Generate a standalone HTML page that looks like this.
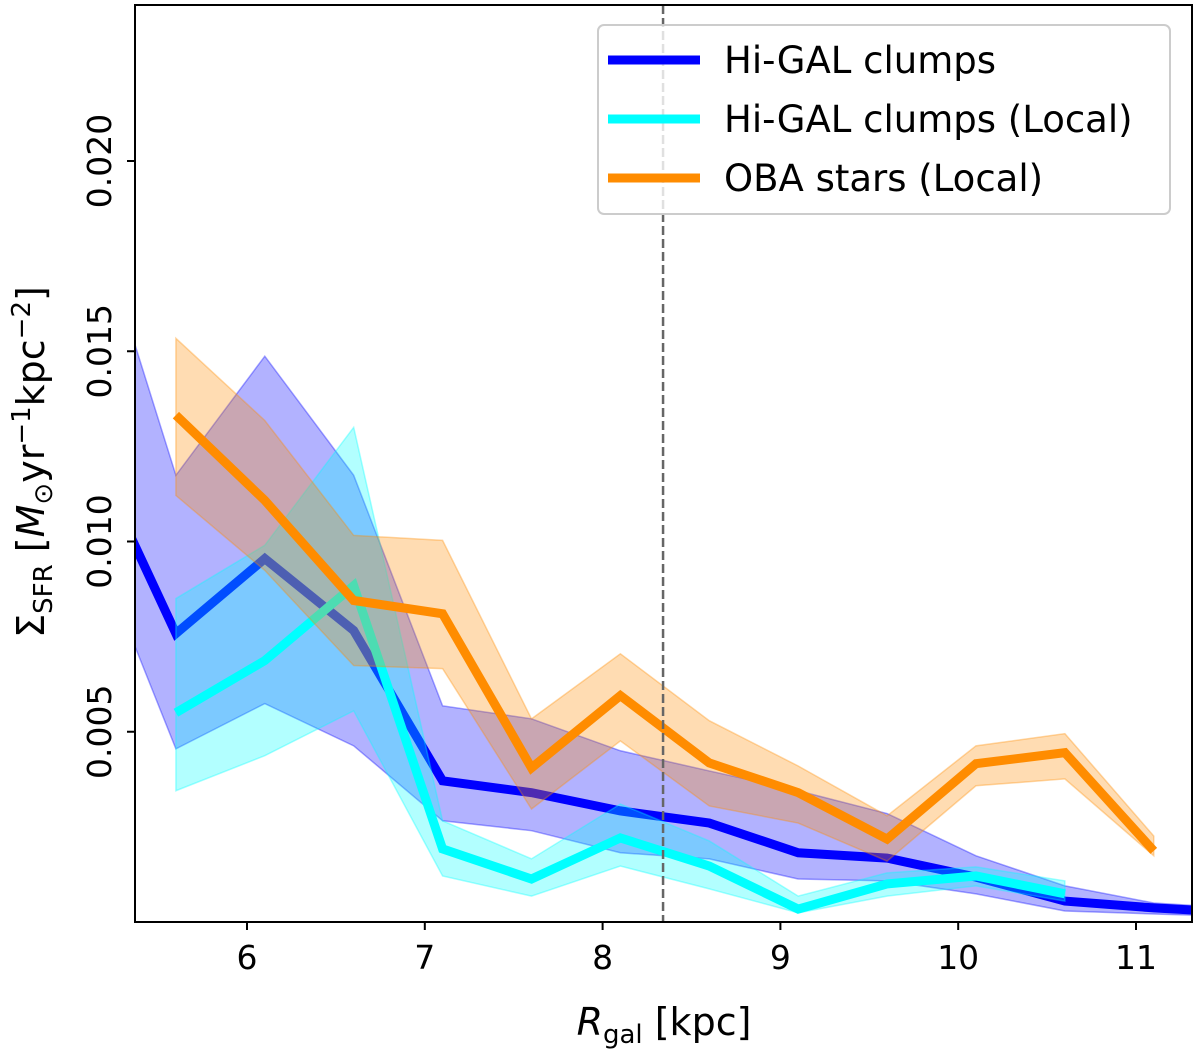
<!DOCTYPE html>
<html><head><meta charset="utf-8"><style>
body{margin:0;background:#fff}
svg{display:block;font-family:"DejaVu Sans","Liberation Sans",sans-serif}
</style></head><body>
<svg id="chart" width="1200" height="1054" viewBox="0 0 1200 1054" xmlns="http://www.w3.org/2000/svg">
<defs><clipPath id="clip"><rect x="135" y="5" width="1057" height="917"/></clipPath></defs>
<g id="plot" clip-path="url(#clip)"></g>
<g id="axes"></g>
</svg>
<script>
const xTicks=[6,7,8,9,10,11];
const yTicks=[0.005,0.010,0.015,0.020];
const yTickLabels=["0.005","0.010","0.015","0.020"];
const blueX=[5.1,5.6,6.1,6.6,7.1,7.6,8.1,8.6,9.1,9.6,10.1,10.6,11.1,11.6];
const blueMid=[0.0126,0.00758,0.00955,0.00766,0.00371,0.0034,0.00292,0.0026,0.00182,0.00168,0.00118,0.00055,0.00037,0.00024];
const blueHi=[0.0192,0.01174,0.01487,0.01174,0.00568,0.00534,0.0045,0.00397,0.00345,0.00285,0.00174,0.00095,0.0005,0.00035];
const blueLo=[0.0104,0.00455,0.00574,0.00463,0.00266,0.0024,0.00182,0.00166,0.00113,0.00108,0.00074,0.00029,0.00021,0.00014];
const cyanX=[5.6,6.1,6.6,7.1,7.6,8.1,8.6,9.1,9.6,10.1,10.6];
const cyanMid=[0.0055,0.00687,0.00884,0.00192,0.00113,0.00221,0.00147,0.00034,0.001,0.00121,0.00074];
const cyanHi=[0.0085,0.0099,0.013,0.00266,0.00166,0.0031,0.00213,0.00068,0.00129,0.00145,0.00108];
const cyanLo=[0.00345,0.00437,0.00555,0.00121,0.00068,0.00147,0.00087,0.00024,0.00068,0.00095,0.00055];
const orangeX=[5.6,6.1,6.6,7.1,7.6,8.1,8.6,9.1,9.6,10.1,10.6,11.1];
const orangeMid=[0.01332,0.01108,0.00845,0.0081,0.00405,0.00595,0.00418,0.0034,0.00218,0.00416,0.00445,0.00187];
const orangeHi=[0.01534,0.01318,0.01016,0.01003,0.00534,0.00705,0.00529,0.0041,0.00279,0.00463,0.00495,0.00226];
const orangeLo=[0.01121,0.00924,0.00674,0.00666,0.00297,0.00476,0.00305,0.0026,0.0016,0.00358,0.00376,0.00174];
const solarR=8.34;

const X0=135,X1=1192,Y0=5,Y1=922;
const xMin=5.37,xMax=11.315,yMin=0,yMax=0.0241;
const sx=v=>X0+(v-xMin)/(xMax-xMin)*(X1-X0);
const sy=v=>922-(v-yMin)/(yMax-yMin)*(Y1-Y0);
const NS="http://www.w3.org/2000/svg";
const plot=document.getElementById('plot'),axes=document.getElementById('axes');
function mk(tag,attrs,parent){const e=document.createElementNS(NS,tag);for(const k in attrs)e.setAttribute(k,attrs[k]);parent.appendChild(e);return e;}

function series(xs,mid,hi,lo,color,name){
  const top=xs.map((x,i)=>sx(x)+','+sy(hi[i]));
  const bot=xs.map((x,i)=>sx(x)+','+sy(lo[i])).reverse();
  const band=mk('polygon',{points:top.concat(bot).join(' '),fill:color,'fill-opacity':0.3,stroke:color,'stroke-opacity':0.35,'stroke-width':1.5},plot);
  
  
  const line=mk('polyline',{points:xs.map((x,i)=>sx(x)+','+sy(mid[i])).join(' '),fill:'none',stroke:color,'stroke-width':9,'stroke-linejoin':'miter','stroke-linecap':'butt'},plot);
  
  
}
series(blueX,blueMid,blueHi,blueLo,'#0000ff','hi-gal-clumps');
series(cyanX,cyanMid,cyanHi,cyanLo,'#00ffff','hi-gal-clumps-local');
series(orangeX,orangeMid,orangeHi,orangeLo,'#ff8c00','oba-stars-local');

const vl=mk('line',{x1:sx(solarR),x2:sx(solarR),y1:Y0,y2:Y1,stroke:'#666','stroke-width':2.5,'stroke-dasharray':'9,4'},plot);



const frame=mk('rect',{x:X0,y:Y0,width:X1-X0,height:Y1-Y0,fill:'none',stroke:'#000','stroke-width':2},axes);



xTicks.forEach(t=>{
  const x=sx(t);
  const tk=mk('line',{x1:x,x2:x,y1:Y1,y2:Y1+8,stroke:'#000','stroke-width':2},axes);
  
  
  const lb=mk('text',{x:x,y:Y1+47,'text-anchor':'middle','font-size':33},axes);
  lb.textContent=t;
  
  
});
yTicks.forEach((t,i)=>{
  const y=sy(t);
  const tk=mk('line',{x1:X0-8,x2:X0,y1:y,y2:y,stroke:'#000','stroke-width':2},axes);
  
  
  const lb=mk('text',{x:0,y:0,'text-anchor':'middle','font-size':33,transform:`translate(111,${y}) rotate(-90)`},axes);
  lb.textContent=yTickLabels[i];
  
  
});
</script>
<svg style="position:absolute;left:0;top:0" width="1200" height="1054" xmlns="http://www.w3.org/2000/svg" font-family="DejaVu Sans, Liberation Sans, sans-serif">
<text x="664" y="1035" text-anchor="middle" font-size="38"><tspan font-style="italic">R</tspan><tspan font-size="26" dy="8">gal</tspan><tspan dy="-8"> [kpc]</tspan></text>
<text transform="translate(44,462) rotate(-90)" text-anchor="middle" font-size="38">Σ<tspan font-size="26" dy="8">SFR</tspan><tspan dy="-8"> [</tspan><tspan font-style="italic">M</tspan><tspan font-size="26" dy="8">⊙</tspan><tspan dy="-8">yr</tspan><tspan font-size="26" dy="-14">−1</tspan><tspan dy="14">kpc</tspan><tspan font-size="26" dy="-14">−2</tspan><tspan dy="14">]</tspan></text>
<g>
<rect x="598" y="25" width="572" height="189" rx="6" fill="#fff" fill-opacity="0.8" stroke="#ccc" stroke-width="2"/>
<line x1="608" x2="700" y1="60" y2="60" stroke="#0000ff" stroke-width="9"/>
<text x="724" y="73" font-size="37">Hi-GAL clumps</text>
<line x1="608" x2="700" y1="119" y2="119" stroke="#00ffff" stroke-width="9"/>
<text x="724" y="132" font-size="37">Hi-GAL clumps (Local)</text>
<line x1="608" x2="700" y1="178" y2="178" stroke="#ff8c00" stroke-width="9"/>
<text x="724" y="191" font-size="37">OBA stars (Local)</text>
</g>
</svg>
</body></html>
